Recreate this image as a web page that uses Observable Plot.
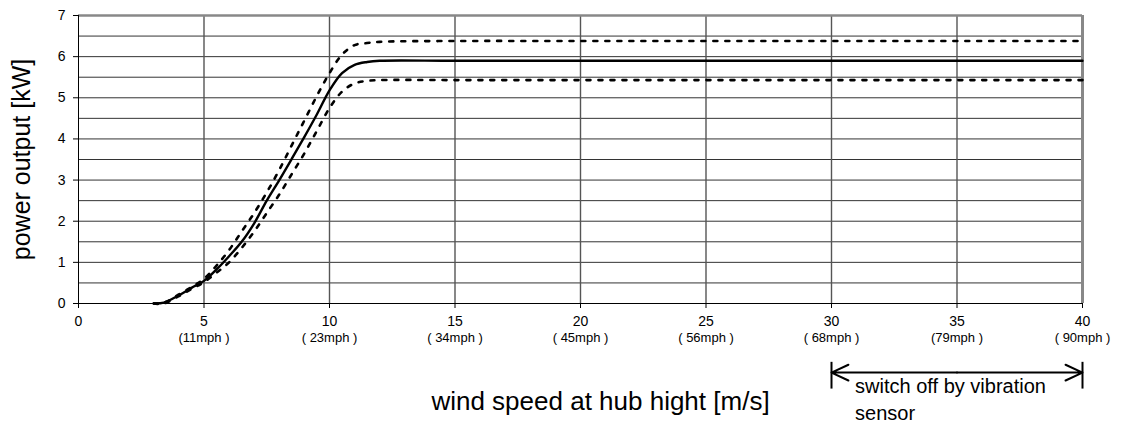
<!DOCTYPE html>
<html>
<head>
<meta charset="utf-8">
<script src="https://cdn.jsdelivr.net/npm/d3@7"></script>
<script src="https://cdn.jsdelivr.net/npm/@observablehq/plot@0.6"></script>
<style>
  html, body { margin: 0; padding: 0; background: #fff; }
  #chart svg { display: block; }
</style>
</head>
<body>
<div id="chart"></div>
<script>
// Wind speed (m/s) sample points
const speeds = [3.0, 3.4, 4.0, 4.5, 5.0, 5.5, 6.0, 6.5, 7.0, 7.5, 8.0, 8.5, 9.0, 9.5, 10.0, 10.5, 11.0, 11.5, 12.0, 15, 20, 25, 30, 35, 40];
// Power output (kW): nominal curve
const powerMid   = [0, 0.02, 0.20, 0.38, 0.55, 0.83, 1.15, 1.50, 1.95, 2.50, 3.00, 3.52, 4.05, 4.60, 5.18, 5.60, 5.80, 5.87, 5.90, 5.90, 5.90, 5.90, 5.90, 5.90, 5.90];
// Upper tolerance band
const powerUpper = [0, 0.02, 0.22, 0.40, 0.60, 0.92, 1.30, 1.75, 2.20, 2.70, 3.25, 3.85, 4.45, 5.05, 5.60, 6.05, 6.28, 6.33, 6.36, 6.38, 6.38, 6.38, 6.38, 6.38, 6.38];
// Lower tolerance band
const powerLower = [0, 0.00, 0.18, 0.35, 0.52, 0.75, 1.00, 1.35, 1.75, 2.20, 2.65, 3.15, 3.65, 4.20, 4.75, 5.15, 5.35, 5.41, 5.43, 5.43, 5.43, 5.43, 5.43, 5.43, 5.43];

// Axis ticks and labels
const xTicks = [0, 5, 10, 15, 20, 25, 30, 35, 40];
const mphLabels = ["", "(11mph )", "( 23mph )", "( 34mph )", "( 45mph )", "( 56mph )", "( 68mph )", "(79mph )", "( 90mph )"];
const yTicks = [0, 1, 2, 3, 4, 5, 6, 7];
const yGrid = [0.5, 1, 1.5, 2, 2.5, 3, 3.5, 4, 4.5, 5, 5.5, 6, 6.5];

// Annotation (switch-off range)
const switchOffRange = [30, 40];
const switchOffLevel = -1.68;
const switchOffBar = [-1.43, -2.08];
const switchOffText = ["switch off by vibration", "sensor"];
const switchOffTextY = [-2.02, -2.68];
const switchOffTextX = 30.94;

const mid = speeds.map((x, i) => ({x, y: powerMid[i]}));
const upper = speeds.map((x, i) => ({x, y: powerUpper[i]}));
const lower = speeds.map((x, i) => ({x, y: powerLower[i]}));
const mph = xTicks.map((x, i) => ({x, label: mphLabels[i]}));
const annot = switchOffText.map((t, i) => ({t, y: switchOffTextY[i]}));
const [a0, a1] = switchOffRange;
const amid = (a0 + a1) / 2;

const chart = Plot.plot({
  width: 1138,
  height: 426,
  marginLeft: 78,
  marginRight: 56,
  marginTop: 15,
  marginBottom: 123,
  style: {fontFamily: "'Liberation Sans', Arial, sans-serif", fontSize: "14px", background: "#fff", color: "#000"},
  x: {domain: [0, 40]},
  y: {domain: [0, 7]},
  marks: [
    Plot.ruleY(yGrid, {stroke: "#333", strokeWidth: 1}),
    Plot.ruleX(xTicks.filter(d => d > 0 && d < 40), {stroke: "#555", strokeWidth: 1.4}),
    Plot.ruleY([7], {stroke: "#888", strokeWidth: 2.5}),
    Plot.ruleX([40], {stroke: "#888", strokeWidth: 3}),
    Plot.ruleX([0], {stroke: "#000", strokeWidth: 1}),
    Plot.ruleY([0], {stroke: "#000", strokeWidth: 1}),
    Plot.axisX({ticks: xTicks, tickSize: 5, tickPadding: 8, tickFormat: "d", fontSize: 14, label: null}),
    Plot.axisY({ticks: yTicks, tickSize: 5, tickPadding: 8, tickFormat: "d", fontSize: 14, label: null}),
    Plot.text(mph, {x: "x", text: "label", frameAnchor: "bottom", dy: 38, fontSize: 13}),
    Plot.line(upper, {x: "x", y: "y", curve: "catmull-rom", stroke: "#000", strokeWidth: 2.6, strokeDasharray: "4,8"}),
    Plot.line(lower, {x: "x", y: "y", curve: "catmull-rom", stroke: "#000", strokeWidth: 2.6, strokeDasharray: "4,8"}),
    Plot.line(mid, {x: "x", y: "y", curve: "catmull-rom", stroke: "#000", strokeWidth: 2.4}),
    Plot.text(["power output [kW]"], {frameAnchor: "left", textAnchor: "middle", dx: -57, rotate: -90, fontSize: 25}),
    Plot.text(["wind speed at hub hight [m/s]"], {frameAnchor: "bottom", dx: 20, dy: 106, fontSize: 26}),
    Plot.ruleX(switchOffRange, {y1: switchOffBar[0], y2: switchOffBar[1], stroke: "#000", strokeWidth: 2}),
    Plot.arrow([{x1: amid, x2: a0}, {x1: amid, x2: a1}], {x1: "x1", x2: "x2", y1: switchOffLevel, y2: switchOffLevel, stroke: "#000", strokeWidth: 2, headLength: 14, headAngle: 50}),
    Plot.text(annot, {x: switchOffTextX, y: "y", text: "t", textAnchor: "start", fontSize: 20})
  ]
});
document.getElementById("chart").appendChild(chart);
</script>
</body>
</html>
